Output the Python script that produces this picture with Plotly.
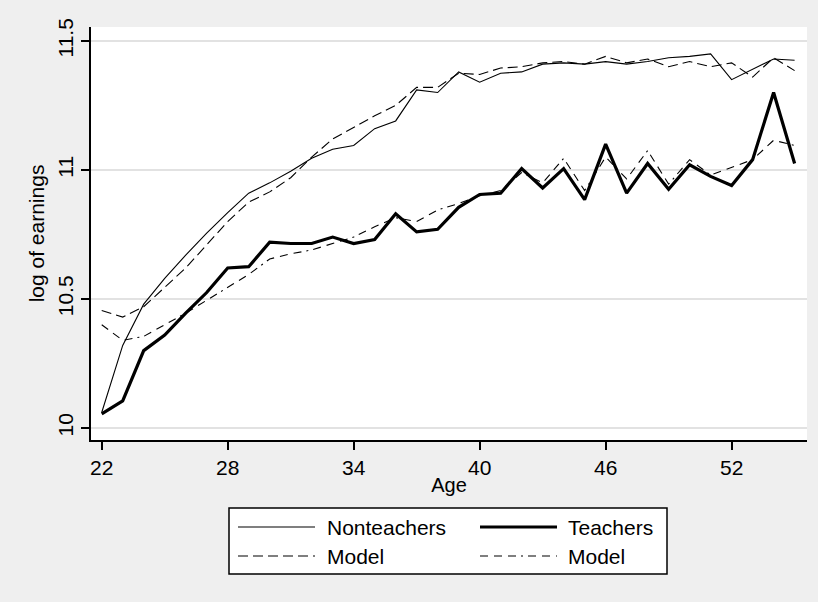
import plotly.graph_objects as go

ages = list(range(22, 56))

nonteachers = [10.06, 10.32, 10.48, 10.58, 10.67, 10.755, 10.835, 10.91, 10.95, 10.995,
               11.045, 11.08, 11.095, 11.16, 11.19, 11.31, 11.30, 11.38, 11.34, 11.375,
               11.38, 11.41, 11.415, 11.41, 11.42, 11.41, 11.42, 11.435, 11.44, 11.45,
               11.35, 11.39, 11.43, 11.425]

nonteacher_model = [10.455, 10.43, 10.47, 10.545, 10.62, 10.71, 10.80, 10.875, 10.915, 10.97,
                    11.05, 11.12, 11.165, 11.21, 11.25, 11.32, 11.32, 11.375, 11.37, 11.395,
                    11.40, 11.415, 11.42, 11.41, 11.44, 11.415, 11.43, 11.40, 11.42, 11.40,
                    11.415, 11.36, 11.435, 11.385]

teachers = [10.055, 10.105, 10.30, 10.36, 10.445, 10.525, 10.62, 10.625, 10.72, 10.715,
            10.715, 10.74, 10.715, 10.73, 10.83, 10.76, 10.77, 10.855, 10.905, 10.91,
            11.005, 10.93, 11.005, 10.885, 11.10, 10.91, 11.025, 10.925, 11.02, 10.975,
            10.94, 11.04, 11.30, 11.025]

teacher_model = [10.40, 10.34, 10.355, 10.40, 10.445, 10.495, 10.545, 10.595, 10.655, 10.675,
                 10.69, 10.715, 10.74, 10.78, 10.815, 10.80, 10.845, 10.87, 10.90, 10.92,
                 10.99, 10.95, 11.045, 10.92, 11.05, 10.965, 11.075, 10.945, 11.04, 10.98,
                 11.01, 11.04, 11.115, 11.095]

x_ticks = [22, 28, 34, 40, 46, 52]
y_ticks = [10, 10.5, 11, 11.5]
y_tick_labels = ["10", "10.5", "11", "11.5"]

legend_labels = ["Nonteachers", "Teachers", "Model", "Model"]

FONT = "Liberation Sans, Arial, sans-serif"
FS = 21
DASH_NT = "10px,5px"
DASH_T = "8px,6px,8px,6px,8px,5px,2px,5px"

fig = go.Figure()
fig.add_trace(go.Scatter(x=ages, y=nonteachers, mode="lines", name=legend_labels[0],
                         line=dict(color="black", width=1.1)))
fig.add_trace(go.Scatter(x=ages, y=teachers, mode="lines", name=legend_labels[1],
                         line=dict(color="black", width=3.2)))
fig.add_trace(go.Scatter(x=ages, y=nonteacher_model, mode="lines", name=legend_labels[2],
                         line=dict(color="black", width=1.1, dash=DASH_NT)))
fig.add_trace(go.Scatter(x=ages, y=teacher_model, mode="lines", name=legend_labels[3],
                         line=dict(color="black", width=1.1, dash=DASH_T)))

W, H = 818, 602
L, R, T, B = 91, 11, 27, 162
pw, ph = W - L - R, H - T - B

def px(x):
    return (x - L) / pw

def py(y):
    return (H - B - y) / ph

shapes = []
annotations = []
# legend box
shapes.append(dict(type="rect", xref="paper", yref="paper",
                   x0=px(229), x1=px(667), y0=py(574), y1=py(508),
                   fillcolor="white", line=dict(color="black", width=1.5), layer="above"))
rows = [527, 556]
cols = [(238, 315, 325), (480, 557, 566)]
styles = [
    (0, 0, dict(color="black", width=1.1)),
    (0, 1, dict(color="black", width=3.2)),
    (1, 0, dict(color="black", width=1.1, dash=DASH_NT)),
    (1, 1, dict(color="black", width=1.1, dash=DASH_T)),
]
for i, (r, c, st) in enumerate(styles):
    x0, x1, tx = cols[c]
    yy = rows[r]
    shapes.append(dict(type="line", xref="paper", yref="paper",
                       x0=px(x0), x1=px(x1), y0=py(yy), y1=py(yy), line=st, layer="above"))
    annotations.append(dict(xref="paper", yref="paper", x=px(tx), y=py(yy),
                            xanchor="left", yanchor="middle", showarrow=False,
                            text=legend_labels[i], font=dict(family=FONT, size=FS, color="black")))

fig.update_layout(
    width=W, height=H,
    margin=dict(l=L, r=R, t=T, b=B),
    paper_bgcolor="#efefef",
    plot_bgcolor="white",
    showlegend=False,
    font=dict(family=FONT, size=FS, color="black"),
    shapes=shapes,
    annotations=annotations,
    xaxis=dict(range=[21.49, 55.59], tickvals=x_ticks, showgrid=False, zeroline=False,
               showline=True, linecolor="black", linewidth=1.5, ticks="outside",
               ticklen=8, tickwidth=1.5, tickcolor="black",
               title=dict(text="Age", standoff=0, font=dict(size=20))),
    yaxis=dict(range=[9.9535, 11.554], tickvals=y_ticks, ticktext=y_tick_labels,
               tickangle=-90, showgrid=True, gridcolor="#e2e2e2", gridwidth=1.5,
               zeroline=False, showline=True, linecolor="black", linewidth=1.5,
               ticks="outside", ticklen=8, tickwidth=1.5, tickcolor="black",
               title=dict(text="log of earnings", standoff=3, font=dict(size=FS))),
)

fig.write_html("out.html")
